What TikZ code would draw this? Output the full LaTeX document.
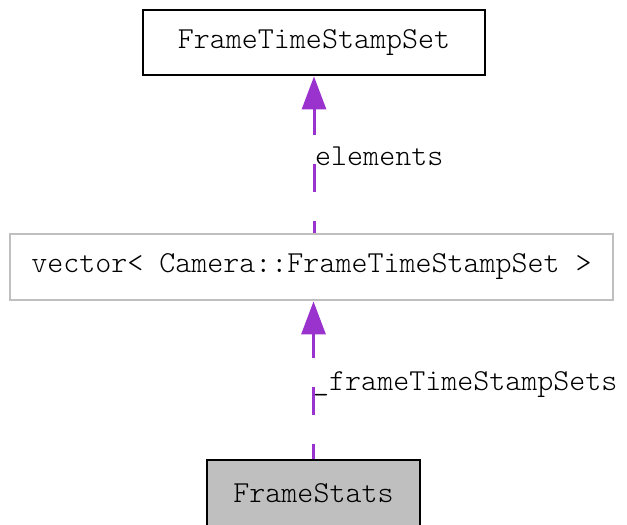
\documentclass[tikz,border=0pt]{standalone}
\usepackage{fontspec}
\setmonofont{lmmonolt10-regular}[Extension=.otf]
\usetikzlibrary{arrows.meta}
\definecolor{edgepurple}{HTML}{9A32CD}
\definecolor{boxgray}{HTML}{BFBFBF}
\tikzset{
  labelfont/.style={font=\ttfamily\fontsize{30.5}{35}\selectfont},
  classbox/.style={draw=black, line width=2.8pt, fill=white, inner sep=0pt, labelfont},
  extbox/.style={classbox, draw=boxgray},
  mainbox/.style={classbox, fill=boxgray},
  usedby/.style={draw=edgepurple, line width=3pt, dash pattern=on 28pt off 29pt,
    -{Triangle[width=24pt,length=33pt,fill=edgepurple]}},
  edgelabel/.style={inner sep=0pt, anchor=base west, labelfont}
}
\begin{document}
\begin{tikzpicture}[x=1pt,y=-1pt]
  \useasboundingbox (0,0) rectangle (627,525);
  \node[classbox, minimum width=342pt, minimum height=65pt] (fts) at (314,42.5) {FrameTimeStampSet};
  \node[extbox, minimum width=603pt, minimum height=66pt] (vec) at (311.5,267) {vector< Camera::FrameTimeStampSet >};
  \node[mainbox, minimum width=213pt, minimum height=66pt] (fs) at (313.5,493) {FrameStats};
  \draw[usedby, dash phase=16pt] (vec.north -| fts.south) -- (fts.south);
  \draw[usedby, dash phase=13pt] (fs.north) -- (fs.north |- vec.south);
  \node[edgelabel] (lab1) at (315,165) {elements};
  \node[edgelabel] (lab2) at (313,390) {\_frameTimeStampSets};
\end{tikzpicture}
\end{document}
